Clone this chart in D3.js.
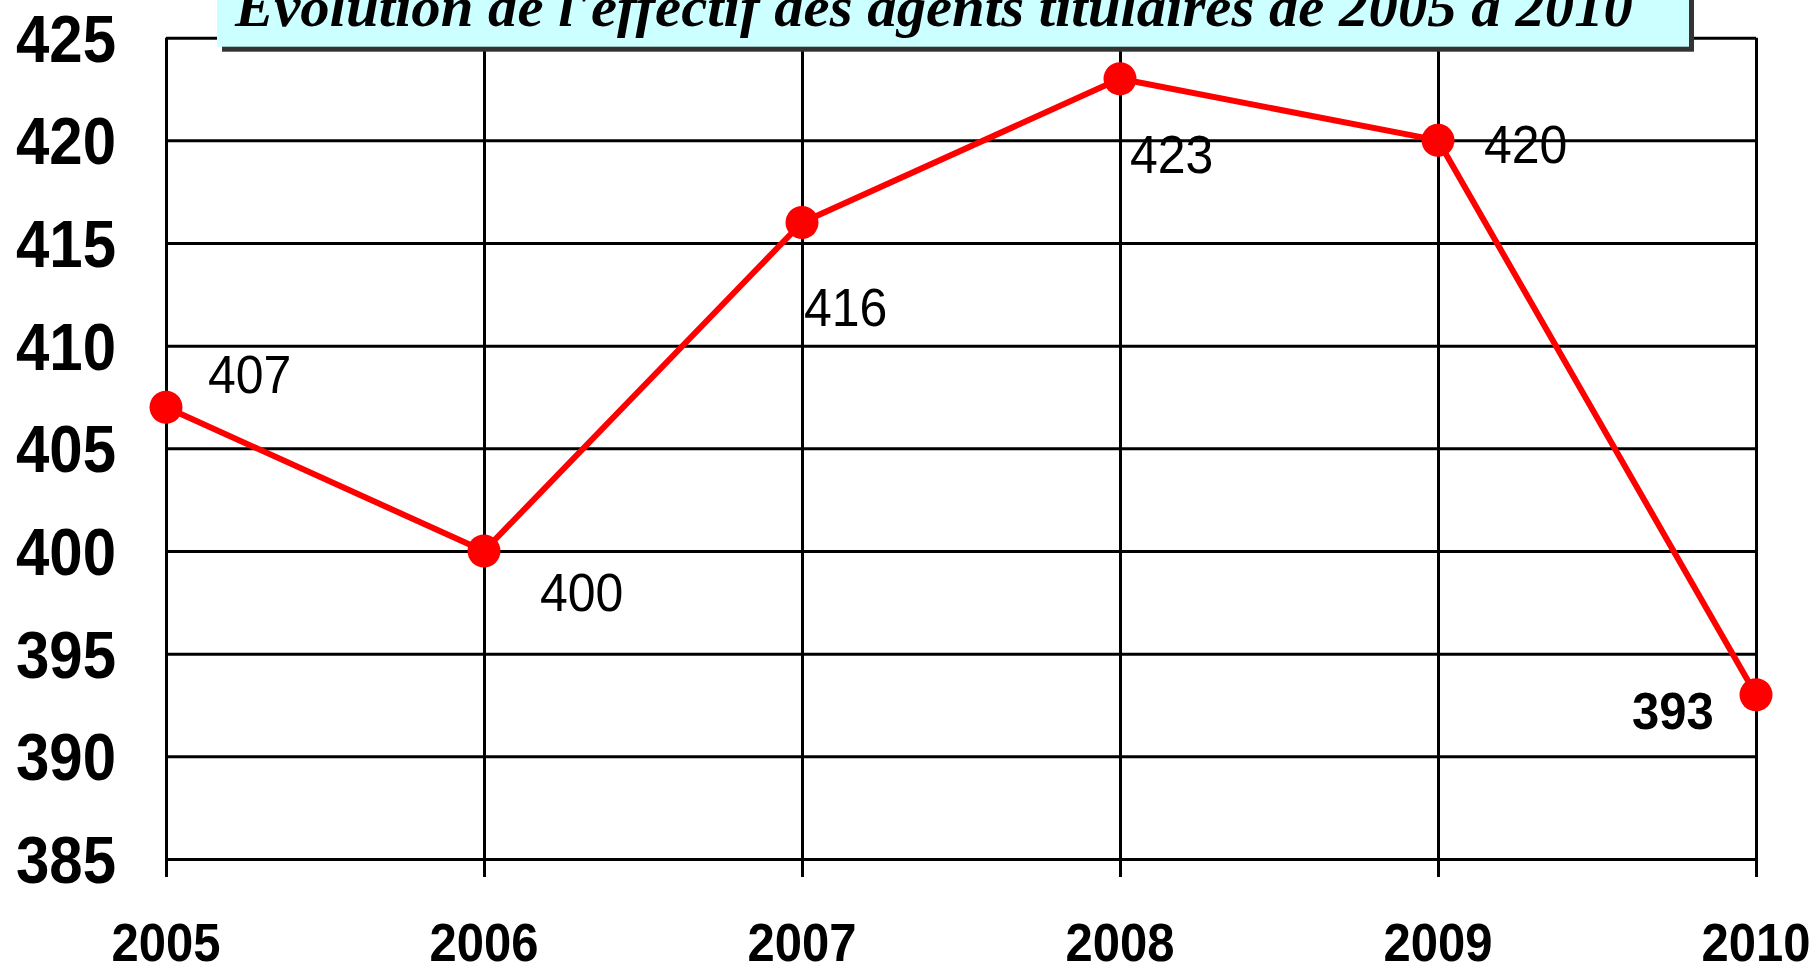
<!DOCTYPE html>
<html>
<head>
<meta charset="utf-8">
<script src="https://cdn.jsdelivr.net/npm/d3@7"></script>
<style>
body { margin: 0; background: #fff; }
svg { display: block; }
</style>
</head>
<body>
<svg id="chart"></svg>
<script>

var years = [2005, 2006, 2007, 2008, 2009, 2010]
var effectif = [407, 400, 416, 423, 420, 393]
var yTicks = [385, 390, 395, 400, 405, 410, 415, 420, 425]
var titre = "Evolution de l'effectif des agents titulaires de 2005 à 2010"
// position of each value label relative to its point [dx, dy]
var labelOffsets = [[42, -14], [56, 60], [2, 104], [10, 94], [46, 23], [-124, 34]]

var W = 1818, H = 967
var svg = d3.select('#chart').attr('width', W).attr('height', H)

var x = d3.scalePoint().domain(years).range([166, 1756])
var y = d3.scaleLinear().domain([385, 425]).range([859, 37.7])

var sans = 'Liberation Sans, Arial, sans-serif'

// horizontal grid lines
svg.append('g')
    .attr('transform', 'translate(' + x(2005) + ',0)')
    .call(d3.axisLeft(y).tickValues(yTicks).tickSize(-(x(2010) - x(2005))).tickFormat(''))
    .call(function(g) { g.select('.domain').remove() })
    .selectAll('line')
    .attr('stroke', '#000')
    .attr('stroke-width', 3)

// vertical lines, running a bit below the bottom grid line
svg.append('g')
    .attr('transform', 'translate(0,' + (y(385) + 18) + ')')
    .call(d3.axisBottom(x).tickSize(-(y(385) + 18 - y(425))).tickFormat(''))
    .call(function(g) { g.select('.domain').remove() })
    .selectAll('line')
    .attr('stroke', '#000')
    .attr('stroke-width', 3)

// y labels
svg.append('g').selectAll('g')
    .data(yTicks)
    .join('g')
    .attr('transform', function(d) { return 'translate(116,' + (y(d) + 24) + ') scale(1,1.12)' })
    .append('text')
    .text(function(d) { return d })
    .attr('text-anchor', 'end')
    .attr('font-family', sans)
    .attr('font-weight', 'bold')
    .attr('font-size', '60px')

// x labels
svg.append('g').selectAll('g')
    .data(years)
    .join('g')
    .attr('transform', function(d) { return 'translate(' + x(d) + ',961) scale(1,1.08)' })
    .append('text')
    .text(function(d) { return d })
    .attr('text-anchor', 'middle')
    .attr('font-family', sans)
    .attr('font-weight', 'bold')
    .attr('font-size', '49px')

// the series
var line = d3.line()
    .x(function(d, i) { return x(years[i]) })
    .y(function(d) { return y(d) })

svg.append('path')
    .datum(effectif)
    .attr('d', line)
    .attr('fill', 'none')
    .attr('stroke', '#ff0000')
    .attr('stroke-width', 6)
    .attr('stroke-linejoin', 'round')

svg.append('g').selectAll('circle')
    .data(effectif)
    .join('circle')
    .attr('cx', function(d, i) { return x(years[i]) })
    .attr('cy', function(d) { return y(d) })
    .attr('r', 16.5)
    .attr('fill', '#ff0000')

svg.append('g').selectAll('g')
    .data(effectif)
    .join('g')
    .attr('transform', function(d, i) {
        return 'translate(' + (x(years[i]) + labelOffsets[i][0]) + ',' + (y(d) + labelOffsets[i][1]) + ') scale(1,1.06)'
    })
    .append('text')
    .text(function(d) { return d })
    .attr('font-family', sans)
    .attr('font-weight', function(d, i) { return i === effectif.length - 1 ? 'bold' : 'normal' })
    .attr('font-size', function(d, i) { return i === effectif.length - 1 ? '49px' : '50px' })

// title box with its shadow
svg.append('rect')
    .attr('x', 222).attr('y', -10)
    .attr('width', 1472).attr('height', 61.7)
    .attr('fill', '#333333')

svg.append('rect')
    .attr('x', 217).attr('y', -10)
    .attr('width', 1472).attr('height', 56.7)
    .attr('fill', '#ccffff')

svg.append('text')
    .text(titre)
    .attr('x', 235)
    .attr('y', 26)
    .attr('font-family', 'Liberation Serif, Times New Roman, serif')
    .attr('font-weight', 'bold')
    .attr('font-style', 'italic')
    .attr('font-size', '58px')
    .attr('textLength', 1398)
    .attr('lengthAdjust', 'spacingAndGlyphs')

</script>
</body>
</html>
